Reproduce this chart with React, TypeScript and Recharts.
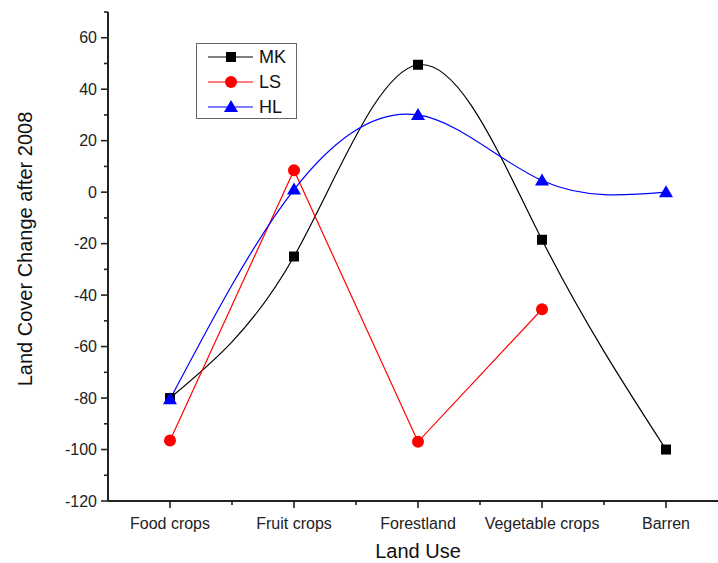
import { LineChart, Line, XAxis, YAxis, Legend } from "recharts"

const categories = ["Food crops", "Fruit crops", "Forestland", "Vegetable crops", "Barren"]
const mk = [-80, -25, 49.5, -18.5, -100]
const ls: (number | null)[] = [-96.5, 8.5, -97, -45.5, null]
const hl = [-80.5, 1, 30, 4.5, 0]

const xTicks = [1, 1.5, 2, 2.5, 3, 3.5, 4, 4.5, 5, 5.5]
const yTicks = [-120, -110, -100, -90, -80, -70, -60, -50, -40, -30, -20, -10, 0, 10, 20, 30, 40, 50, 60, 70]

const data = categories.map((name, i) => ({ x: i + 1, name, MK: mk[i], LS: ls[i], HL: hl[i] }))

const FONT = "'Liberation Sans', Arial, sans-serif"
const AXIS = "#222"

type Kind = "square" | "circle" | "triangle"

const series: { key: string; color: string; kind: Kind; curve: "natural" | "linear" }[] = [
  { key: "MK", color: "#000000", kind: "square", curve: "natural" },
  { key: "LS", color: "#ff0000", kind: "circle", curve: "linear" },
  { key: "HL", color: "#0000ff", kind: "triangle", curve: "natural" },
]

function Marker({ kind, cx, cy, color }: { kind: Kind; cx: number; cy: number; color: string }) {
  if (kind === "square") return <rect x={cx - 5} y={cy - 5} width={10} height={10} fill={color} />
  if (kind === "circle") return <circle cx={cx} cy={cy} r={6} fill={color} />
  return <path d={`M ${cx},${cy - 7} L ${cx + 7},${cy + 5} L ${cx - 7},${cy + 5} Z`} fill={color} />
}

function makeDot(kind: Kind, color: string) {
  // eslint-disable-next-line @typescript-eslint/no-explicit-any
  return (p: any) => {
    if (p.cy == null || p.value == null) return <g key={p.index} />
    return <Marker key={p.index} kind={kind} cx={p.cx} cy={p.cy} color={color} />
  }
}

// eslint-disable-next-line @typescript-eslint/no-explicit-any
function XTick({ x, y, payload }: any) {
  const v = payload.value
  const major = Number.isInteger(v)
  return (
    <g>
      <line x1={x} y1={y} x2={x} y2={y + (major ? 7 : 4)} stroke={AXIS} strokeWidth={1.6} />
      {major && (
        <text x={x} y={y + 28} textAnchor="middle" fontSize={16} fontFamily={FONT} fill="#222">
          {categories[v - 1]}
        </text>
      )}
    </g>
  )
}

// eslint-disable-next-line @typescript-eslint/no-explicit-any
function YTick({ x, y, payload }: any) {
  const v = payload.value
  const major = v % 20 === 0
  return (
    <g>
      <line x1={x} y1={y} x2={x - (major ? 7 : 4)} y2={y} stroke={AXIS} strokeWidth={1.6} />
      {major && (
        <text x={x - 11} y={y} dy="0.36em" textAnchor="end" fontSize={16} fontFamily={FONT} fill="#222">
          {v}
        </text>
      )}
    </g>
  )
}

function LegendBox() {
  return (
    <svg width={101} height={76} style={{ display: "block" }}>
      <rect x={0.5} y={0.5} width={100} height={75} fill="#fff" stroke="#666" />
      {series.map((s, i) => {
        const cy = 14 + i * 25
        return (
          <g key={s.key}>
            <line x1={12} y1={cy} x2={57} y2={cy} stroke={s.color} strokeWidth={1.2} />
            <Marker kind={s.kind} cx={35} cy={cy} color={s.color} />
            <text x={63} y={cy} dy="0.36em" fontSize={18} fontFamily={FONT} fill="#111">
              {s.key}
            </text>
          </g>
        )
      })}
    </svg>
  )
}

export default function App() {
  return (
    <div style={{ position: "absolute", left: 0, top: 0, width: 718, height: 563, overflow: "hidden", background: "#fff" }}>
      <LineChart width={742} height={563} data={data} margin={{ top: 12, right: 14, bottom: 32, left: 48 }}>
        <XAxis
          dataKey="x"
          type="number"
          domain={[0.5, 5.5]}
          ticks={xTicks}
          interval={0}
          height={30}
          tickSize={0}
          tickMargin={0}
          tickLine={false}
          tick={<XTick />}
          axisLine={{ stroke: AXIS, strokeWidth: 2 }}
          label={() => (
            <text x={418} y={558} textAnchor="middle" fontSize={20} fontFamily={FONT} fill="#111">
              Land Use
            </text>
          )}
        />
        <YAxis
          type="number"
          domain={[-120, 70]}
          ticks={yTicks}
          interval={0}
          width={60}
          tickSize={0}
          tickMargin={0}
          tickLine={false}
          tick={<YTick />}
          axisLine={{ stroke: AXIS, strokeWidth: 2 }}
          label={() => (
            <text
              x={25}
              y={249}
              transform="rotate(-90 25 249)"
              dy="0.36em"
              textAnchor="middle"
              fontSize={20}
              fontFamily={FONT}
              fill="#111"
            >
              Land Cover Change after 2008
            </text>
          )}
        />
        <Legend
          layout="vertical"
          align="center"
          verticalAlign="middle"
          wrapperStyle={{ left: 196, top: 43, width: "auto", height: "auto" }}
          content={() => <LegendBox />}
        />
        {series.map((s) => (
          <Line
            key={s.key}
            dataKey={s.key}
            name={s.key}
            type={s.curve}
            stroke={s.color}
            strokeWidth={1.2}
            dot={makeDot(s.kind, s.color)}
            activeDot={false}
            isAnimationActive={false}
          />
        ))}
      </LineChart>
    </div>
  )
}
